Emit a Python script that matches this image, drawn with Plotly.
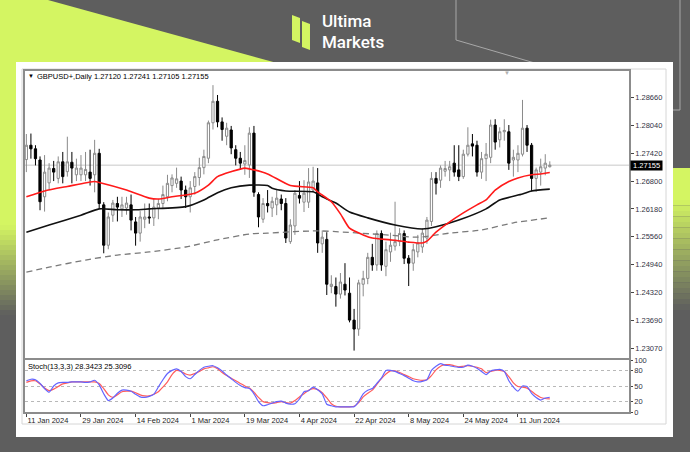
import plotly.graph_objects as go

# ---------------- data ----------------
opens = [1.2728,1.2760,1.2752,1.2727,1.2645,1.2676,1.2708,1.2686,1.2723,1.2701,
         1.2722,1.2694,1.2694,1.2694,1.2700,1.2694,1.2742,1.2627,1.2537,1.2604,
         1.2630,1.2618,1.2620,1.2627,1.2589,1.2564,1.2595,1.2600,1.2598,1.2620,
         1.2630,1.2645,1.2670,1.2675,1.2680,1.2660,1.2645,1.2668,1.2688,1.2710,
         1.2731,1.2810,1.2858,1.2812,1.2780,1.2794,1.2750,1.2731,1.2718,1.2716,
         1.2787,1.2650,1.2595,1.2630,1.2620,1.2627,1.2640,1.2630,1.2545,1.2580,
         1.2648,1.2633,1.2633,1.2660,1.2676,1.2540,1.2550,1.2445,1.2445,1.2428,
         1.2450,1.2430,1.2370,1.2350,1.2450,1.2463,1.2510,1.2493,1.2563,1.2490,
         1.2522,1.2535,1.2545,1.2563,1.2508,1.2497,1.2522,1.2533,1.2553,1.2590,
         1.2686,1.2682,1.2702,1.2705,1.2720,1.2705,1.2690,1.2740,1.2763,1.2760,
         1.2700,1.2730,1.2733,1.2805,1.2772,1.2790,1.2790,1.2727,1.2727,1.2740,
         1.2798,1.2760,1.2686,1.2700,1.2709,1.27120]
highs = [1.2785,1.2786,1.2760,1.2735,1.2738,1.2720,1.2725,1.2735,1.2745,1.2779,
         1.2745,1.2730,1.2738,1.2745,1.2750,1.2772,1.2752,1.2633,1.2610,1.2638,
         1.2645,1.2645,1.2645,1.2650,1.2600,1.2613,1.2630,1.2630,1.2640,1.2640,
         1.2670,1.2694,1.2695,1.2710,1.2690,1.2670,1.2680,1.2700,1.2732,1.2750,
         1.2815,1.2894,1.2872,1.2822,1.2810,1.2803,1.2760,1.2745,1.2760,1.2800,
         1.2803,1.2655,1.2642,1.2660,1.2645,1.2660,1.2650,1.2642,1.2595,1.2660,
         1.2680,1.2682,1.2709,1.2712,1.2709,1.2570,1.2566,1.2470,1.2465,1.2475,
         1.2497,1.2465,1.2395,1.2460,1.2480,1.2520,1.2540,1.2570,1.2570,1.2545,
         1.2565,1.2634,1.2575,1.2570,1.2515,1.2540,1.2560,1.2575,1.2600,1.2700,
         1.2700,1.2715,1.2725,1.2725,1.2760,1.2760,1.2750,1.2800,1.2785,1.2770,
         1.2745,1.2765,1.2817,1.2818,1.2800,1.2818,1.2805,1.2750,1.2760,1.2861,
         1.2805,1.2765,1.2710,1.2730,1.2740,1.27241]
lows = [1.2700,1.2730,1.2715,1.2615,1.2612,1.2660,1.2680,1.2675,1.2675,1.2690,
        1.2675,1.2680,1.2680,1.2680,1.2670,1.2655,1.2618,1.2519,1.2528,1.2589,
        1.2590,1.2600,1.2605,1.2570,1.2536,1.2545,1.2575,1.2585,1.2580,1.2595,
        1.2620,1.2635,1.2655,1.2665,1.2640,1.2620,1.2610,1.2650,1.2670,1.2695,
        1.2720,1.2795,1.2800,1.2770,1.2760,1.2740,1.2715,1.2705,1.2694,1.2687,
        1.2645,1.2577,1.2587,1.2610,1.2600,1.2604,1.2615,1.2542,1.2540,1.2560,
        1.2630,1.2611,1.2620,1.2655,1.2520,1.2520,1.2426,1.2430,1.2400,1.2418,
        1.2425,1.2365,1.2302,1.2335,1.2423,1.2450,1.2480,1.2480,1.2480,1.2468,
        1.2500,1.2525,1.2535,1.2495,1.2446,1.2480,1.2510,1.2520,1.2540,1.2580,
        1.2650,1.2665,1.2690,1.2680,1.2690,1.2680,1.2685,1.2735,1.2735,1.2690,
        1.2685,1.2680,1.2720,1.2750,1.2755,1.2770,1.2705,1.2690,1.2700,1.2735,
        1.2745,1.2657,1.2656,1.2670,1.2693,1.27105]
closes = [1.2760,1.2752,1.2730,1.2634,1.2700,1.2709,1.2700,1.2723,1.2690,1.2723,
          1.2709,1.2709,1.2709,1.2706,1.2686,1.2742,1.2630,1.2537,1.2600,1.2631,
          1.2622,1.2627,1.2631,1.2593,1.2564,1.2600,1.2600,1.2598,1.2622,1.2630,
          1.2650,1.2675,1.2687,1.2685,1.2660,1.2645,1.2665,1.2690,1.2710,1.2735,
          1.2810,1.2858,1.2812,1.2795,1.2798,1.2754,1.2731,1.2720,1.2726,1.2787,
          1.2655,1.2600,1.2630,1.2625,1.2635,1.2642,1.2630,1.2553,1.2582,1.2653,
          1.2642,1.2653,1.2678,1.2680,1.2542,1.2555,1.2450,1.2450,1.2428,1.2455,
          1.2437,1.2370,1.2350,1.2453,1.2463,1.2510,1.2493,1.2563,1.2493,1.2527,
          1.2537,1.2545,1.2563,1.2508,1.2497,1.2527,1.2542,1.2564,1.2593,1.2686,
          1.2675,1.2709,1.2708,1.2712,1.2700,1.2690,1.2740,1.2760,1.2758,1.2700,
          1.2730,1.2740,1.2805,1.2767,1.2790,1.2793,1.2720,1.2733,1.2742,1.2798,
          1.2760,1.2686,1.2705,1.2712,1.2720,1.27155]

# moving averages (bar index, price)
ma_red_idx = [0,4,9,15,16,22,27,29,32,37,40,42,45,48,50,53,58,63,64,67,69,71,74,76,80,84,87,88,90,93,96,99,101,103,106,108,111,113,115]
ma_red_val = [1.2645,1.2658,1.2668,1.2679,1.2677,1.2660,1.2642,1.2640,1.2645,1.2653,1.2671,1.2690,1.2701,1.2709,1.2705,1.2696,1.2670,1.2665,1.2656,1.2634,1.2607,1.2575,1.2560,1.2553,1.2549,1.2544,1.2542,1.2546,1.2566,1.2589,1.2609,1.2627,1.2638,1.2660,1.2679,1.2687,1.2694,1.2696,1.2699]
ma_blk_idx = [0,5,12,16,20,24,27,35,39,42,45,49,53,54,57,63,65,68,71,75,81,87,90,95,101,104,109,111,115]
ma_blk_val = [1.2566,1.2582,1.2604,1.2618,1.2616,1.2616,1.2618,1.2623,1.2638,1.2654,1.2665,1.2671,1.2670,1.2664,1.2658,1.2656,1.2645,1.2631,1.2611,1.2598,1.2582,1.2573,1.2578,1.2593,1.2618,1.2638,1.2651,1.2658,1.2662]
ma_dash_idx = [0,5,13,20,27,35,42,49,53,64,79,86,93,100,107,115]
ma_dash_val = [1.2477,1.2488,1.2504,1.2515,1.2522,1.2533,1.2549,1.2562,1.2564,1.2569,1.2560,1.2555,1.2564,1.2571,1.2587,1.2598]

# stochastic %K (blue) and %D (red), one value per bar
stoch_k = [60,63,62,55,45,38,50,56,57,57,58,58,58,57,58,61,52,35,22,27,
           36,42,42,40,34,29,28,30,34,48,62,74,80,83,78,68,64,72,80,86,
           88,89,85,79,71,64,57,51,47,45,35,20,12,14,17,20,21,17,15,16,
           25,39,41,48,43,35,15,12,10,10,10,10,10,20,35,42,45,55,65,80,
           80,78,74,70,65,60,58,59,62,80,88,93,90,89,87,86,86,90,88,84,
           78,72,79,81,82,78,60,48,40,50,49,36,28,23,27,28.3423]
stoch_d = [57,60,60,54,46,41,44,49,54,56,58,58,58,58,58,58,55,45,33,28,
           33,39,40,40,37,33,31,31,34,39,48,58,72,80,78,73,71,74,78,83,
           85,87,83,76,70,65,60,55,50,46,38,28,20,18,17,18,20,18,17,22,
           29,35,42,45,43,37,27,16,11,10,10,10,11,18,29,36,42,53,64,73,
           79,79,76,72,68,64,62,61,62,70,81,88,91,91,89,87,88,89,88,86,
           83,76,78,80,80,78,68,56,49,48,46,40,33,28,26,25.3096]

date_tick_idx = [0,12,24,36,48,60,72,84,96,108]
date_tick_text = ["11 Jan 2024","29 Jan 2024","14 Feb 2024","1 Mar 2024","19 Mar 2024",
                  "4 Apr 2024","22 Apr 2024","8 May 2024","24 May 2024","11 Jun 2024"]
price_tick_vals = [1.28660,1.28040,1.27420,1.26800,1.26180,1.25560,1.24940,1.24320,1.23690,1.23070]
price_tick_text = ["1.28660","1.28040","1.27420","1.26800","1.26180","1.25560","1.24940","1.24320","1.23690","1.23070"]
stoch_tick_vals = [0,20,50,80,100]
last_price = 1.27155
title_text = "GBPUSD+,Daily 1.27120 1.27241 1.27105 1.27155"
stoch_text = "Stoch(13,3,3) 28.3423 25.3096"

# ---------------- layout helpers ----------------
W, H = 690, 452
ML, MR, MT, MB = 25, 61, 71, 40
PW, PH = W - ML - MR, H - MT - MB
def PX(x): return (x - ML) / PW
def PY(y): return (H - MB - y) / PH

LIME = (212, 245, 98)
GRAY = (94, 94, 94)
def mix(t):
    c = [round(LIME[i] * (1 - t) + GRAY[i] * t) for i in range(3)]
    return "rgb(%d,%d,%d)" % tuple(c)

FONT = "Liberation Sans, Arial, sans-serif"
bars = list(range(len(opens)))
xr = [-0.3, 132.4]

fig = go.Figure()
fig.add_trace(go.Candlestick(
    x=bars, open=opens, high=highs, low=lows, close=closes,
    xaxis="x", yaxis="y", whiskerwidth=0,
    increasing=dict(line=dict(color="#8a8a8a", width=1), fillcolor="white"),
    decreasing=dict(line=dict(color="black", width=1), fillcolor="black"),
    showlegend=False, hoverinfo="skip"))
fig.add_trace(go.Scatter(x=ma_dash_idx, y=ma_dash_val, mode="lines", xaxis="x", yaxis="y",
                         line=dict(color="#7a7a7a", width=1.3, dash="6px,4px", shape="spline", smoothing=0.6),
                         showlegend=False, hoverinfo="skip"))
fig.add_trace(go.Scatter(x=ma_blk_idx, y=ma_blk_val, mode="lines", xaxis="x", yaxis="y",
                         line=dict(color="#111111", width=1.6, shape="spline", smoothing=0.6),
                         showlegend=False, hoverinfo="skip"))
fig.add_trace(go.Scatter(x=ma_red_idx, y=ma_red_val, mode="lines", xaxis="x", yaxis="y",
                         line=dict(color="#ff1a1a", width=1.6, shape="spline", smoothing=0.6),
                         showlegend=False, hoverinfo="skip"))
fig.add_trace(go.Scatter(x=bars, y=stoch_d, mode="lines", xaxis="x2", yaxis="y2",
                         line=dict(color="#ff5c5c", width=1.2, shape="spline", smoothing=0.5),
                         showlegend=False, hoverinfo="skip"))
fig.add_trace(go.Scatter(x=bars, y=stoch_k, mode="lines", xaxis="x2", yaxis="y2",
                         line=dict(color="#6464ff", width=1.2, shape="spline", smoothing=0.5),
                         showlegend=False, hoverinfo="skip"))

shapes = []
# lime corner
shapes.append(dict(type="path", xref="paper", yref="paper", layer="below", line=dict(width=0),
                   fillcolor=mix(0),
                   path="M %f,%f L %f,%f L %f,%f L %f,%f L %f,%f L %f,%f Z" % (
                       PX(0), PY(0), PX(48), PY(0), PX(277), PY(63), PX(16), PY(63),
                       PX(16), PY(225), PX(0), PY(225))))
for i in range(18):
    y0 = 225 + i * 5
    shapes.append(dict(type="rect", xref="paper", yref="paper", layer="below", line=dict(width=0),
                       fillcolor=mix((i + 0.5) / 18), x0=PX(0), x1=PX(16), y0=PY(y0), y1=PY(y0 + 5)))
shapes.append(dict(type="rect", xref="paper", yref="paper", layer="below", line=dict(width=0),
                   fillcolor=mix(0), x0=PX(673), x1=PX(690), y0=PY(168), y1=PY(200)))
for i in range(20):
    y0 = 200 + i * 5.5
    shapes.append(dict(type="rect", xref="paper", yref="paper", layer="below", line=dict(width=0),
                       fillcolor=mix((i + 0.5) / 20), x0=PX(673), x1=PX(690), y0=PY(y0), y1=PY(y0 + 5.5)))
# decorative thin lines
shapes.append(dict(type="path", xref="paper", yref="paper", layer="below",
                   line=dict(color="#a8a8a8", width=1),
                   path="M %f,%f L %f,%f L %f,%f" % (PX(456), PY(0), PX(456), PY(40), PX(545), PY(66))))
shapes.append(dict(type="path", xref="paper", yref="paper", layer="below",
                   line=dict(color="#a8a8a8", width=1),
                   path="M %f,%f L %f,%f L %f,%f" % (PX(680), PY(0), PX(680), PY(110), PX(673), PY(110))))
# white card and window frame
shapes.append(dict(type="rect", xref="paper", yref="paper", layer="below", line=dict(width=0),
                   fillcolor="white", x0=PX(16), x1=PX(673), y0=PY(437), y1=PY(62)))
shapes.append(dict(type="rect", xref="paper", yref="paper", layer="below",
                   line=dict(color="#d6d6d6", width=1),
                   x0=PX(22), x1=PX(666), y0=PY(424), y1=PY(69)))
# logo mark
shapes.append(dict(type="path", xref="paper", yref="paper", layer="above", line=dict(width=0),
                   fillcolor=mix(0),
                   path="M %f,%f L %f,%f L %f,%f L %f,%f Z" % (
                       PX(292), PY(15), PX(300), PY(18), PX(300), PY(43), PX(292), PY(40))))
shapes.append(dict(type="path", xref="paper", yref="paper", layer="above", line=dict(width=0),
                   fillcolor=mix(0),
                   path="M %f,%f L %f,%f L %f,%f L %f,%f Z" % (
                       PX(302), PY(21), PX(310), PY(24), PX(310), PY(50), PX(302), PY(47))))
# current price line
shapes.append(dict(type="line", xref="x", yref="y", layer="below",
                   x0=xr[0], x1=xr[1], y0=last_price, y1=last_price,
                   line=dict(color="#c8c8c8", width=1)))

annotations = [
    dict(text="Ultima", xref="paper", yref="paper", x=PX(321), y=PY(21.5), xanchor="left", yanchor="middle",
         showarrow=False, borderpad=0,
         font=dict(family="Roboto, sans-serif", size=17, color="white", weight=500)),
    dict(text="Markets", xref="paper", yref="paper", x=PX(321), y=PY(41.5), xanchor="left", yanchor="middle",
         showarrow=False, borderpad=0,
         font=dict(family="Roboto, sans-serif", size=17, color="white", weight=500)),
    dict(text="▼", xref="paper", yref="paper", x=PX(26), y=PY(76), xanchor="left", yanchor="middle",
         showarrow=False, font=dict(family=FONT, size=6, color="black")),
    dict(text=title_text, xref="paper", yref="paper", x=PX(35), y=PY(76), xanchor="left", yanchor="middle",
         showarrow=False, font=dict(family=FONT, size=7.5, color="black")),
    dict(text=stoch_text, xref="paper", yref="paper", x=PX(26), y=PY(366), xanchor="left", yanchor="middle",
         showarrow=False, font=dict(family=FONT, size=7.5, color="black")),
    dict(text="▼", xref="paper", yref="paper", x=PX(507), y=PY(73), xanchor="center", yanchor="middle",
         showarrow=False, font=dict(family=FONT, size=6, color="#b0b0b0")),
    dict(text=" 1.27155 ", xref="paper", yref="y", x=PX(630), y=last_price, xanchor="left", yanchor="middle",
         showarrow=False, bgcolor="black", borderpad=0,
         font=dict(family=FONT, size=7.5, color="white")),
]

axis_common = dict(showline=True, mirror=True, linecolor="#8c8c8c", linewidth=1.5,
                   showgrid=False, zeroline=False, fixedrange=True)
fig.update_layout(
    width=W, height=H, margin=dict(l=ML, r=MR, t=MT, b=MB),
    paper_bgcolor="rgb(94,94,94)", plot_bgcolor="white",
    showlegend=False, hovermode=False,
    xaxis=dict(domain=[0, 1], anchor="y", range=xr, showticklabels=False, ticks="",
               rangeslider=dict(visible=False), **axis_common),
    yaxis=dict(domain=[PY(358), 1], anchor="x", side="right", range=[1.22855, 1.29255],
               tickmode="array", tickvals=price_tick_vals, ticktext=price_tick_text,
               ticks="outside", ticklen=3, tickcolor="#444", tickwidth=1,
               tickfont=dict(family=FONT, size=7.5, color="#333344"), **axis_common),
    xaxis2=dict(domain=[0, 1], anchor="y2", range=xr, tickmode="array",
                tickvals=date_tick_idx, ticktext=date_tick_text, ticks="outside", ticklen=3,
                tickcolor="#444", ticklabelposition="outside right",
                tickfont=dict(family=FONT, size=7.5, color="#222"), **axis_common),
    yaxis2=dict(domain=[0, PY(360)], anchor="x2", side="right", range=[0, 100],
                tickmode="array", tickvals=stoch_tick_vals, ticks="outside", ticklen=2,
                tickcolor="#444", tickfont=dict(family=FONT, size=7.5, color="#333344"),
                showline=True, mirror=True, linecolor="#8c8c8c", linewidth=1.5,
                showgrid=True, gridcolor="#b8b8b8", griddash="dot", gridwidth=1,
                zeroline=False, fixedrange=True),
    shapes=shapes, annotations=annotations,
)

fig.write_html("out.html", config={"displayModeBar": False},
               post_script="document.body.style.margin='0';document.body.style.padding='0';"
                           "document.body.style.background='rgb(94,94,94)';")
